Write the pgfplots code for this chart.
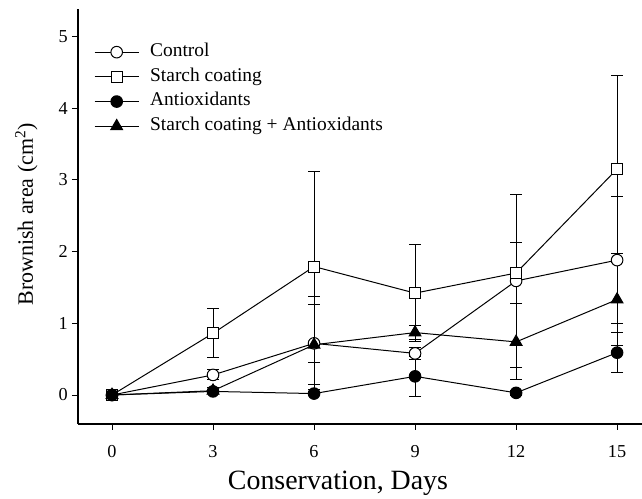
\documentclass[border=0pt]{standalone}
\usepackage{fontspec}
\setmainfont{Liberation Serif}
\usepackage{pgfplots}
\pgfplotsset{compat=1.18}
\pgfplotstableread{
x y e
0 0 0
3 0.28 0.07
6 0.72 0.65
9 0.58 0.08
12 1.59 1.20
15 1.88 0.89
}\control
\pgfplotstableread{
x y e
0 0 0
3 0.86 0.34
6 1.79 1.33
9 1.42 0.68
12 1.70 0.42
15 3.15 1.31
}\starch
\pgfplotstableread{
x y e
0 0 0
3 0.05 0.03
6 0.02 0.03
9 0.26 0.28
12 0.03 0.03
15 0.59 0.28
}\antiox
\pgfplotstableread{
x y e
0 0 0
3 0.06 0.04
6 0.70 0.56
9 0.87 0.10
12 0.74 0.53
15 1.33 0.64
}\both
\begin{document}
\begin{tikzpicture}[x=1bp,y=1bp]
\useasboundingbox (-78,-75) rectangle (564,424);
\begin{axis}[
  at={(0,0)}, anchor=south west,
  scale only axis, width=564bp, height=415bp,
  xmin=-1.01, xmax=15.74, ymin=-0.404, ymax=5.38,
  axis x line=bottom, axis y line=left,
  axis line style={-, line width=1.1bp, black},
  xtick={0,3,6,9,12,15}, ytick={0,1,2,3,4,5},
  minor tick num=0,
  tick align=outside, major tick length=6bp,
  tick style={line width=1bp, black},
  /pgf/number format/assume math mode=true,
  ticklabel style={font=\fontsize{18.3}{21}\selectfont},
  xticklabel style={inner sep=0pt, anchor=north, yshift=-15bp},
  yticklabel style={inner sep=0pt, anchor=east, xshift=-4bp},
  xlabel={Conservation, Days},
  xlabel style={font=\fontsize{28}{32}\selectfont, at={(axis description cs:0.461,-0.159)}, anchor=base},
  ylabel={Brownish area (cm\textsuperscript{2})},
  ylabel style={font=\fontsize{22}{26}\selectfont, at={(axis description cs:-0.080,0.505)}, anchor=base},
  legend style={draw=none, fill=none, at={(axis cs:-0.535,4.91)}, anchor=north west,
    inner sep=0pt, row sep=6.2bp, column sep=11bp,
    font=\fontsize{19.5}{23}\selectfont,
    nodes={inner sep=0pt, text height=13.5bp, text depth=5bp}},
  legend cell align=left,
  legend image code/.code={\draw[mark repeat=2,mark phase=2] plot coordinates {(0bp,0bp)(22bp,0bp)(44bp,0bp)};},
  every axis plot/.append style={black, line width=1bp},
  error bars/y dir=both, error bars/y explicit,
  error bars/error mark options={rotate=90, mark size=6bp, line width=1bp, black},
  error bars/error bar style={line width=1bp, black},
]
\addplot[mark=*, mark size=5.8bp, mark options={fill=white, solid}] table[x=x, y=y, y error=e] {\control};
\addlegendentry{Control}
\addplot[mark=square*, mark size=5.5bp, mark options={fill=white, solid}] table[x=x, y=y, y error=e] {\starch};
\addlegendentry{Starch coating}
\addplot[mark=*, mark size=5.8bp, mark options={fill=black, solid}] table[x=x, y=y, y error=e] {\antiox};
\addlegendentry{Antioxidants}
\addplot[mark=triangle*, mark size=6.8bp, mark options={fill=black, solid}] table[x=x, y=y, y error=e] {\both};
\addlegendentry{Starch coating + Antioxidants}
\end{axis}
\end{tikzpicture}
\end{document}
